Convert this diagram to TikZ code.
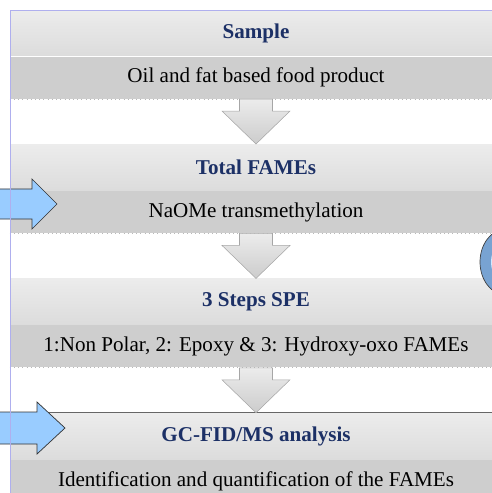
\documentclass[tikz,border=0pt]{standalone}
\usepackage{fontspec}
\setmainfont{Liberation Serif}
\usetikzlibrary{positioning,calc}
\definecolor{navy}{RGB}{28,48,102}
\definecolor{bandtop}{RGB}{236,236,236}
\definecolor{bandbot}{RGB}{220,220,220}
\definecolor{darkband}{RGB}{206,206,206}
\definecolor{skyblue}{RGB}{153,204,255}
\definecolor{loopblue}{RGB}{120,163,210}
\definecolor{frame}{RGB}{175,175,238}
\tikzset{
  titleband/.style={minimum width=9.84cm, minimum height=0.92cm, inner sep=0pt,
    top color=bandtop, bottom color=bandbot, font=\fontsize{12}{14}\selectfont\bfseries, text=navy},
  subband/.style={minimum width=9.84cm, minimum height=0.84cm, inner sep=0pt,
    fill=darkband, font=\fontsize{12}{14}\selectfont},
  downarrow/.style={top color=gray!15, bottom color=gray!40, draw=gray!70, line width=0.3pt},
  inarrow/.style={fill=skyblue, draw=black!80, line width=0.4pt}
}
\newcommand\stepdown[2]{%
  \path[downarrow] ($(#1.south)+(-16.5,0)$) -- ($(#1.south)+(16.5,0)$)
    -- ($(#1.south)+(16.5,12)$) -- ($(#1.south)+(34,12)$) -- (#2.north)
    -- ($(#1.south)+(-34,12)$) -- ($(#1.south)+(-16.5,12)$) -- cycle;}

\begin{document}
\begin{tikzpicture}[x=0.02cm,y=-0.02cm]
\useasboundingbox (0,0) rectangle (492,493);
\begin{scope}
\clip (0,0) rectangle (492,493);
% the four steps
\node[titleband] (sample) at (256,33) {Sample};
\node[subband, below=0pt of sample] (oil) {Oil and fat based food product};
\node[titleband, below=0.9cm of oil] (total) {Total FAMEs};
\node[subband, below=0pt of total] (naome) {NaOMe transmethylation};
\node[titleband, below=0.9cm of naome] (spe) {3 Steps SPE};
\node[subband, below=0pt of spe] (fractions) {1:Non Polar, 2: Epoxy \& 3: Hydroxy-oxo FAMEs};
\node[titleband, below=0.9cm of fractions] (gc) {GC-FID/MS analysis};
\node[subband, below=0pt of gc] (ident) {Identification and quantification of the FAMEs};
\foreach \b in {oil,naome,fractions,ident}
  \draw[dotted, gray!55] (\b.south west) -- (\b.south east);
\draw[black!60, line width=0.4pt] (gc.north west) -- (gc.north east);
% arrows between steps
\stepdown{oil}{total}
\stepdown{naome}{spe}
\stepdown{fractions}{gc}
% arrows coming in from the left
\draw[inarrow] (-2,189) -- (32,189) -- (32,179) -- (57,204) -- (32,229) -- (32,219) -- (-2,219) -- cycle;
\draw[inarrow] (-2,412) -- (37,412) -- (37,402) -- (65,428) -- (37,454) -- (37,444) -- (-2,444) -- cycle;
% loop at the right edge
\draw[fill=loopblue, draw=black!75, line width=0.4pt] (506,262) ellipse [x radius=26, y radius=33];
\fill[skyblue!45] (508,262) ellipse [x radius=17, y radius=22];
\fill[loopblue] (511,262) ellipse [x radius=16, y radius=22];
% frame
\draw[frame, line width=0.5pt] (10,495) -- (10,10) -- (495,10);
\end{scope}
\end{tikzpicture}
\end{document}
